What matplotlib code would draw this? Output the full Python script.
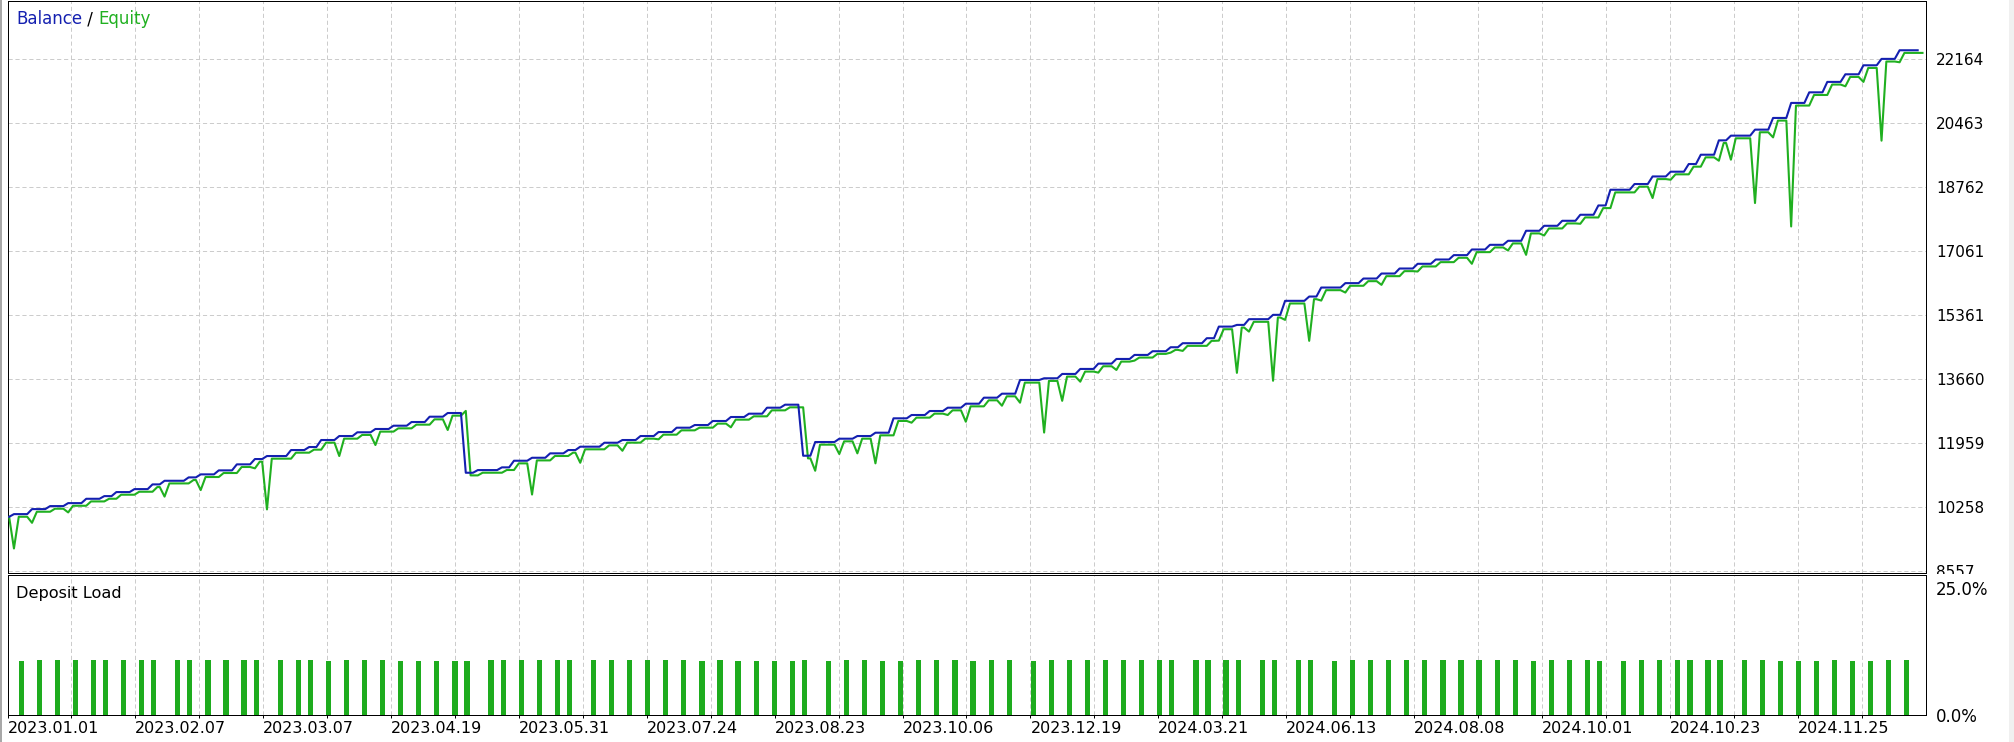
import numpy as np
import matplotlib
matplotlib.use("Agg")
import matplotlib.pyplot as plt
from matplotlib.patches import Rectangle

W, H = 2014, 742

# balance when the test starts
start_balance = 10008

# slot of every deposit-load bar on the tester graph (one bar per deal)
load_slot = [
    2, 5, 8, 11, 14, 16, 19, 22, 24, 28,
    30, 33, 36, 39, 41, 45, 48, 50, 53, 56,
    59, 62, 65, 68, 71, 74, 76, 80, 82, 85,
    88, 91, 93, 97, 100, 103, 106, 109, 112, 115,
    118, 121, 124, 127, 130, 132, 136, 139, 142, 145,
    148, 151, 154, 157,
    160, 163, 166, 170, 173, 176, 179, 182, 185, 188,
    191, 193, 197, 199, 202, 204, 208, 210, 214, 216,
    220, 223, 226, 229, 232, 235, 238, 241, 244, 247,
    250, 253, 256, 259, 262, 264, 268, 271, 274, 277,
    279, 282, 284, 288, 291, 294, 297, 300, 303, 306,
    309, 312, 315,
]

# deposit load of each bar, %
load_pct = [
    10.6, 10.8, 10.8, 10.8, 10.8, 10.8, 10.8, 10.8, 10.8, 10.8,
    10.8, 10.8, 10.8, 10.8, 10.8, 10.8, 10.8, 10.8, 10.6, 10.8,
    10.8, 10.8, 10.6, 10.6, 10.6, 10.6, 10.6, 10.8, 10.8, 10.8,
    10.8, 10.8, 10.8, 10.8, 10.8, 10.8, 10.8, 10.8, 10.8, 10.6,
    10.8, 10.6, 10.6, 10.6, 10.6, 10.8, 10.6, 10.8, 10.8, 10.6,
    10.6, 10.8, 10.8, 10.8,
    10.6, 10.8, 10.8, 10.6, 10.8, 10.8, 10.8, 10.8, 10.8, 10.8,
    10.8, 10.8, 10.8, 10.8, 10.8, 10.8, 10.8, 10.8, 10.8, 10.8,
    10.6, 10.8, 10.8, 10.8, 10.8, 10.8, 10.8, 10.8, 10.8, 10.8,
    10.8, 10.6, 10.8, 10.8, 10.8, 10.6, 10.6, 10.8, 10.8, 10.8,
    10.8, 10.8, 10.8, 10.8, 10.8, 10.6, 10.6, 10.6, 10.8, 10.6,
    10.6, 10.8, 10.8,
]

# balance after each deal; the first deal closes before the first load bar shows
balance_after = [
    10080,
    10213, 10293, 10372, 10487, 10558, 10665, 10744, 10869, 10965, 11055,
    11135, 11241, 11401, 11542, 11622, 11781, 11861, 12047, 12153, 12252,
    12340, 12427, 12525, 12666, 12764, 11178, 11249, 11321, 11497, 11576,
    11693, 11781, 11870, 11975, 12047, 12153, 12259, 12374, 12445, 12552,
    12658, 12746, 12905, 12985, 11630, 11994, 12082, 12153, 12241, 12623,
    12711, 12817, 12905, 13011,
    13171, 13277, 13641, 13686, 13801, 13934, 14075, 14199, 14306, 14404,
    14510, 14617, 14750, 15058, 15103, 15255, 15370, 15742, 15856, 16095,
    16212, 16334, 16467, 16600, 16725, 16839, 16955, 17105, 17229, 17336,
    17602, 17734, 17867, 18027, 18274, 18691, 18843, 19044, 19170, 19374,
    19621, 20002, 20127, 20287, 20597, 20996, 21277, 21554, 21756, 21995,
    22165, 22394, 22394,
]

# equity low (or high) while each deal is open; None where equity just trails balance
equity_extreme = [
    9168,
    9849, None, 10125, None, None, None, None, None, 10545, None,
    10718, None, None, 11295, 10205, None, None, None, 11622, None,
    11914, None, None, None, 12313, 12820, None, None, None, 10600,
    None, None, 11443, None, 11762, None, 12065, None, None, None,
    12384, None, None, None, None, 11231, 11675, 11693, 11427, None,
    12507, None, 12711, 12533,
    None, 12958, 13038, 12245, 13087, 13596, 13836, 13907, 14155, None,
    14367, 14413, None, 14686, 13830, 14925, 13620, 15236, 14680, 15749,
    15962, None, 16166, None, 16520, None, None, 16725, None, 17078,
    16963, 17477, None, 17788, 17955, None, None, 18471, 18957, None,
    None, 19462, 19489, 18338, 20081, 17716, None, None, 21437, 21554,
    19994, 22075, None,
]

price_ticks = [8557, 10258, 11959, 13660, 15361, 17061, 18762, 20463, 22164]
load_ticks = [0, 25]
load_labels = ["0.0%", "25.0%"]
date_labels = [
    "2023.01.01", "2023.02.07", "2023.03.07", "2023.04.19", "2023.05.31",
    "2023.07.24", "2023.08.23", "2023.10.06", "2023.12.19", "2024.03.21",
    "2024.06.13", "2024.08.08", "2024.10.01", "2024.10.23", "2024.11.25",
]

BALANCE_COLOR = "#1420b0"
EQUITY_COLOR = "#20b020"
LOAD_COLOR = "#1eac1e"
GRID_COLOR = "#cccccc"
EQ_GAP = 70  # equity sits just under balance between deals
X_MIN, X_MAX = -0.27, 318.1
PRICE_MIN, PRICE_MAX = 8530, 23715
LOAD_MAX = 27.67
GRID_STYLE = dict(color=GRID_COLOR, linestyle=(0, (3, 2)), linewidth=0.72)


def build_lines():
    """Turn per-deal values into balance / equity polylines."""
    deal_slot = [-1] + load_slot
    bx, by = [0.0], [start_balance]
    ex, ey = [0.0], [start_balance]
    prev_b, prev_e = start_balance, start_balance
    for s, b, ext in zip(deal_slot, balance_after, equity_extreme):
        bx += [s + 1.0, s + 1.8]
        by += [prev_b, b]
        ex += [s + 1.0, s + 1.8, s + 2.6]
        ey += [prev_e, prev_e if ext is None else ext, b - EQ_GAP]
        prev_b, prev_e = b, b - EQ_GAP
    return bx, by, ex, ey


def style_frame(ax):
    for sp in ax.spines.values():
        sp.set_color("black")
        sp.set_linewidth(0.72)


def main():
    plt.rcParams["font.family"] = ["DejaVu Sans"]
    plt.rcParams["lines.scale_dashes"] = False

    fig = plt.figure(figsize=(W / 100, H / 100), dpi=100)
    fig.patch.set_facecolor("white")

    ax = fig.add_axes([7.5 / W, 169.5 / H, 1918 / W, 572 / H], zorder=0)
    axl = fig.add_axes([7.5 / W, 27.5 / H, 1918 / W, 140 / H], zorder=2)

    grid_x = X_MIN + np.arange(30) * (X_MAX - X_MIN) / 30

    # balance / equity
    bx, by, ex, ey = build_lines()
    ax.plot(ex, ey, color=EQUITY_COLOR, lw=1.5, zorder=3)
    ax.plot(bx, by, color=BALANCE_COLOR, lw=1.5, zorder=4)
    ax.set_xlim(X_MIN, X_MAX)
    ax.set_ylim(PRICE_MIN, PRICE_MAX)
    ax.set_xticks(grid_x)
    ax.set_yticks(price_ticks)
    ax.set_yticklabels([str(v) for v in price_ticks])
    ax.yaxis.tick_right()
    ax.tick_params(axis="x", length=0, labelbottom=False)
    ax.tick_params(axis="y", length=0, pad=7.5, labelsize=11, labelcolor="black")
    ax.grid(True, **GRID_STYLE)
    style_frame(ax)

    # deposit load
    axl.bar(load_slot, load_pct, width=0.86, color=LOAD_COLOR, zorder=3)
    axl.set_xlim(X_MIN, X_MAX)
    axl.set_ylim(0, LOAD_MAX)
    axl.set_yticks(load_ticks)
    axl.set_yticklabels(load_labels)
    axl.yaxis.tick_right()
    axl.set_xticks(grid_x)
    axl.set_xticklabels([date_labels[k // 2] if k % 2 == 0 else "" for k in range(30)])
    for lab in axl.get_xticklabels():
        lab.set_horizontalalignment("left")
    axl.tick_params(axis="x", length=2.5, width=0.72, pad=2.5, labelsize=11.5)
    axl.tick_params(axis="y", length=0, pad=7.5, labelsize=12)
    axl.grid(True, axis="x", **GRID_STYLE)
    axl.set_axisbelow(True)
    style_frame(axl)

    # hide the lower half of the bottom price label, as the tester does
    fig.patches.append(Rectangle((1926 / W, 0), 1 - 1926 / W, (H - 573.6) / H,
                                 transform=fig.transFigure, facecolor="white",
                                 edgecolor="none", zorder=1))
    fig.patches.append(Rectangle((0, 0), 2 / W, 1, transform=fig.transFigure,
                                 facecolor="#a8a8a8", edgecolor="none", zorder=3))
    fig.patches.append(Rectangle((2009 / W, 0), 5 / W, 1, transform=fig.transFigure,
                                 facecolor="#f0f0f0", edgecolor="none", zorder=3))

    # titles
    t = fig.text(16 / W, 1 - 24 / H, "Balance", color=BALANCE_COLOR, fontsize=12, va="baseline")
    t2 = ax.annotate(" / ", xy=(1, 0), xycoords=t, va="bottom", color="black", fontsize=12)
    ax.annotate("Equity", xy=(1, 0), xycoords=t2, va="bottom", color=EQUITY_COLOR, fontsize=12)
    fig.text(15.6 / W, 1 - 597.7 / H, "Deposit Load", color="black", fontsize=11.6,
             va="baseline", zorder=5)

    fig.savefig("out.png", dpi=100)
    plt.close(fig)


if __name__ == "__main__":
    main()
